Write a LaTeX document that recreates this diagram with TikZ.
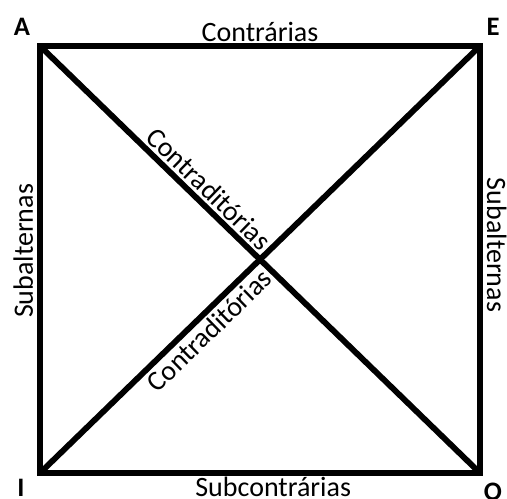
\documentclass[tikz,border=0pt]{standalone}
\usepackage{fontspec}
\setmainfont{Carlito}
\tikzset{
    edge/.style={line width=4.4pt, line join=miter},
    rel/.style={font=\fontsize{21}{25}\selectfont},
    corner/.style={font=\fontsize{20}{24}\selectfont\bfseries}
}
\begin{document}
\begin{tikzpicture}[x=0.75pt, y=-0.75pt]
        \useasboundingbox (0,0) rectangle (507,499);
        % corners
            \coordinate (a) at (40,46);
            \coordinate (e) at (480,46);
            \coordinate (o) at (480,473);
            \coordinate (i) at (40,473);
            \node[corner] (la) at (22,27) {A};
            \node[corner] (le) at (493,27) {E};
            \node[corner] (li) at (21,488) {I};
            \node[corner] (lo) at (493,492) {O};
        % square
            \draw[edge] (a) -- node[rel, pos=0.5, above, inner sep=1pt] (contr) {Contrárias}
                (e) -- node[rel, pos=0.466, rotate=-90, anchor=south, inner sep=3pt] (subr) {Subalternas}
                (o) -- node[rel, pos=0.47, below, inner sep=1pt] (subc) {Subcontrárias}
                (i) -- node[rel, pos=0.52, rotate=90, anchor=south, inner sep=3pt] (subl) {Subalternas}
                cycle;
        % diagonals
            \draw[edge] (a) -- node[rel, pos=0.36, sloped, above, inner sep=2pt] (cd1) {Contraditórias} (o);
            \draw[edge] (i) -- node[rel, pos=0.36, sloped, below, inner sep=2pt] (cd2) {Contraditórias} (e);
        \end{tikzpicture}
\end{document}
